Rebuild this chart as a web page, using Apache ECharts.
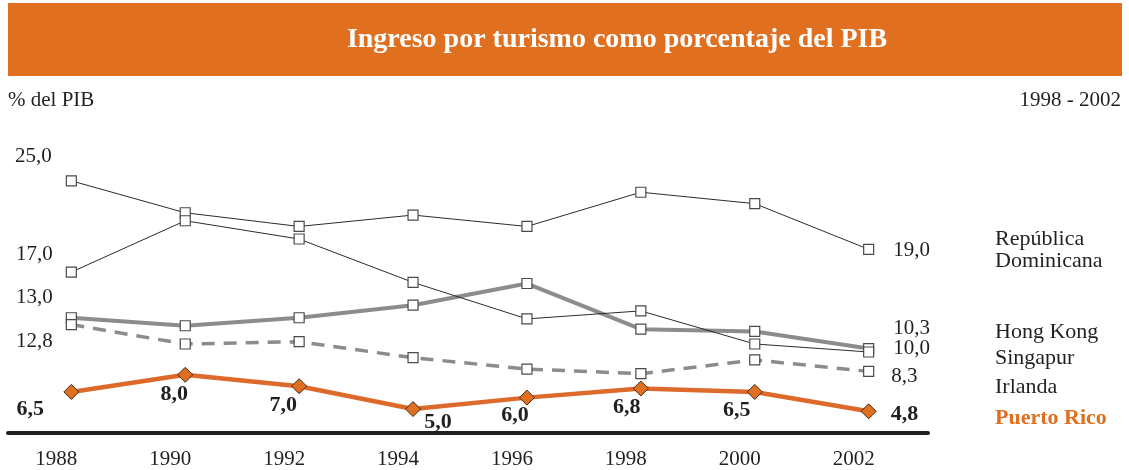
<!DOCTYPE html>
<html>
<head>
<meta charset="utf-8">
<script src="https://cdn.jsdelivr.net/npm/echarts@6/dist/echarts.min.js"></script>
<style>
html, body { margin: 0; padding: 0; background: #fff; }
#tourchart { width: 1129px; height: 470px; }
</style>
</head>
<body>
<div id="tourchart"></div>
<script>
// data
var years = [1988, 1990, 1992, 1994, 1996, 1998, 2000, 2002];
var repDominicana = [25.0, 22.2, 21.0, 22.0, 21.0, 24.0, 23.0, 19.0];
var singapur = [17.0, 21.5, 19.9, 16.1, 12.9, 13.6, 10.7, 10.0];
var hongKong = [13.0, 12.3, 13.0, 14.1, 16.0, 12.0, 11.8, 10.3];
var irlanda = [12.4, 10.7, 10.9, 9.5, 8.5, 8.1, 9.3, 8.3];
var puertoRico = [6.5, 8.0, 7.0, 5.0, 6.0, 6.8, 6.5, 4.8];
// texts printed at the left end of the lines
var startLabels = ['25,0', '17,0', '13,0', '12,8'];
var legendNames = ['República\nDominicana', 'Hong Kong', 'Singapur', 'Irlanda', 'Puerto Rico'];

var SERIF = '"Liberation Serif", "DejaVu Serif", serif';
var INK = '#231F20';
var ORANGE = '#E06F1F';

function fmt(v) {
  return v.toFixed(1).replace('.', ',');
}

// label tweaks (offset from the point)
var startOffsets = [[-38, -24], [-37, -18], [-37, -20], [-37, 17]];
var endOffsets = [[19, 1], [19, -3], [19, -20], [17, 5]];
var prOffsets = [[-41, 17], [-11, 20], [-16, 19], [25, 13], [-12, 18], [-14, 19], [-18, 18]];

function lineData(vals, idx) {
  return vals.map(function (v, i) {
    var item = { value: [years[i], v] };
    if (i === 0) {
      item.label = {
        show: true, position: 'inside', offset: startOffsets[idx],
        formatter: startLabels[idx], fontSize: 21, fontFamily: SERIF, color: INK
      };
    } else if (i === vals.length - 1) {
      item.label = {
        show: true, position: 'right', distance: endOffsets[idx][0], offset: [0, endOffsets[idx][1]],
        formatter: fmt(v), fontSize: 21, fontFamily: SERIF, color: INK
      };
    }
    return item;
  });
}

function prData(vals) {
  return vals.map(function (v, i) {
    var item = { value: [years[i], v] };
    if (i < vals.length - 1) {
      item.label = {
        show: true, position: 'inside', offset: prOffsets[i],
        formatter: fmt(v), fontSize: 22, fontWeight: 'bold', fontFamily: SERIF, color: INK
      };
    } else {
      item.label = {
        show: true, position: 'right', distance: 14, offset: [0, 3],
        formatter: fmt(v), fontSize: 22, fontWeight: 'bold', fontFamily: SERIF, color: INK
      };
    }
    return item;
  });
}

var squareMarker = {
  symbol: 'rect',
  symbolSize: 10,
  itemStyle: { color: '#fff', borderColor: '#4a4a4a', borderWidth: 1.2 }
};

var dom = document.getElementById('tourchart');
var myChart = echarts.init(dom, null, { renderer: 'canvas' });

var nameTops = [228, 321, 347, 376, 407];
var graphics = [
  { type: 'rect', shape: { x: 8, y: 3, width: 1114, height: 73 }, style: { fill: ORANGE }, silent: true },
  { type: 'text', x: 617, y: 40, style: { text: 'Ingreso por turismo como porcentaje del PIB', font: 'bold 28px ' + SERIF, fill: '#fff', align: 'center', verticalAlign: 'middle' } },
  { type: 'text', x: 8, y: 100, style: { text: '% del PIB', font: '21px ' + SERIF, fill: INK, verticalAlign: 'middle' } },
  { type: 'text', x: 1121, y: 100, style: { text: '1998 - 2002', font: '21px ' + SERIF, fill: INK, align: 'right', verticalAlign: 'middle' } }
];
legendNames.forEach(function (n, i) {
  var isPR = i === legendNames.length - 1;
  graphics.push({
    type: 'text', x: 995, y: nameTops[i],
    style: {
      text: n,
      font: (isPR ? 'bold 22px ' : '22px ') + SERIF,
      fill: isPR ? ORANGE : INK,
      lineHeight: 22
    }
  });
});

var option = {
  animation: false,
  backgroundColor: '#fff',
  grid: { left: 8, right: 201, top: 158, bottom: 36 },
  xAxis: {
    type: 'value',
    min: 1986.888,
    max: 2003.042,
    axisLine: { show: true, onZero: false, lineStyle: { color: INK, width: 4 } },
    axisTick: { show: false },
    splitLine: { show: false },
    axisLabel: {
      customValues: years,
      formatter: function (v) { return String(v); },
      color: INK,
      fontSize: 21,
      fontFamily: SERIF,
      margin: 16,
      padding: [0, 30, 0, 0]
    }
  },
  yAxis: {
    type: 'value',
    min: 2.9,
    max: 27,
    show: false,
    splitLine: { show: false }
  },
  series: [
    Object.assign({
      name: 'República Dominicana', type: 'line', data: lineData(repDominicana, 0),
      lineStyle: { color: '#2b2b2b', width: 1 }, z: 4
    }, squareMarker),
    Object.assign({
      name: 'Singapur', type: 'line', data: lineData(singapur, 1),
      lineStyle: { color: '#2b2b2b', width: 1 }, z: 4
    }, squareMarker),
    Object.assign({
      name: 'Hong Kong', type: 'line', data: lineData(hongKong, 2),
      lineStyle: { color: '#8c8c8c', width: 4 }, z: 3
    }, squareMarker),
    Object.assign({
      name: 'Irlanda', type: 'line', data: lineData(irlanda, 3),
      lineStyle: { color: '#8c8c8c', width: 3.5, type: [13, 9] }, z: 3
    }, squareMarker),
    {
      name: 'Puerto Rico', type: 'line', data: prData(puertoRico),
      symbol: 'diamond', symbolSize: 15,
      lineStyle: { color: '#DD6A2A', width: 4.5 },
      itemStyle: { color: ORANGE, borderColor: '#3d2b1f', borderWidth: 1 },
      z: 5
    }
  ],
  graphic: graphics
};

myChart.setOption(option);
window.addEventListener('resize', myChart.resize);
</script>
</body>
</html>
